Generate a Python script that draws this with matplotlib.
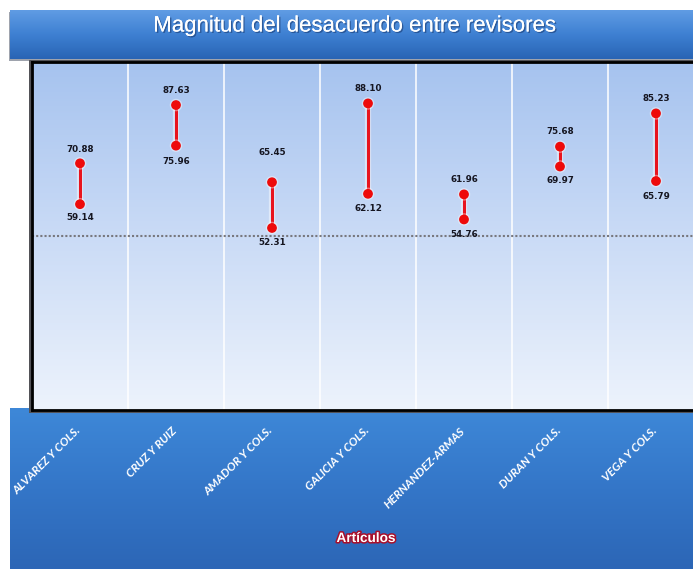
import numpy as np
import matplotlib
matplotlib.use("Agg")
import matplotlib.pyplot as plt
import matplotlib.patheffects as pe
from matplotlib.colors import LinearSegmentedColormap

# ---- data ----
categories = ['ALVAREZ Y COLS.', 'CRUZ Y RUIZ', 'AMADOR Y COLS.', 'GALICIA Y COLS.',
              'HERNANDEZ-ARMAS', 'DURAN Y COLS.', 'VEGA Y COLS.']
high = [70.88, 87.63, 65.45, 88.10, 61.96, 75.68, 85.23]
low = [59.14, 75.96, 52.31, 62.12, 54.76, 69.97, 65.79]
reference_line = 50
title = 'Magnitud del desacuerdo entre revisores'
xlabel = 'Artículos'

W, H = 693, 569
fig = plt.figure(figsize=(W / 100, H / 100), dpi=100)
fig.patch.set_facecolor('white')


def fx(px):
    return px / W


def fy(py):
    return 1 - py / H


def gradient_axes(rect, colors, z):
    ax = fig.add_axes(rect, zorder=z)
    cmap = LinearSegmentedColormap.from_list('g', [np.array(c) / 255 for c in colors])
    grad = np.linspace(0, 1, 256).reshape(-1, 1)
    ax.imshow(grad, aspect='auto', cmap=cmap, extent=[0, 1, 0, 1], origin='upper')
    ax.set_xlim(0, 1)
    ax.set_ylim(0, 1)
    ax.axis('off')
    return ax


# title banner shadow + banner
sh = fig.add_axes([fx(9), fy(61), 1, fy(12) - fy(61)], zorder=1)
sh.axis('off')
sh.add_patch(plt.Rectangle((0, 0), 1, 1, transform=sh.transAxes, color=(0.62, 0.64, 0.68)))
tb = gradient_axes([fx(10), fy(59), 1, fy(10) - fy(59)],
                   [(96, 156, 228), (62, 128, 210), (40, 100, 180)], 2)
fig.text(fx(355), fy(26), title, ha='center', va='center', color='white',
         fontsize=16, family='Liberation Sans', zorder=10,
         path_effects=[pe.withSimplePatchShadow(offset=(1, -1), shadow_rgbFace='#1a3a70', alpha=0.6), pe.Normal()])

# bottom banner
bb = gradient_axes([fx(10), 0, 1, fy(408)], [(62, 136, 216), (52, 118, 200), (44, 102, 182)], 2)

# plot area shadow
ps = fig.add_axes([fx(29), fy(413), 1, fy(60) - fy(413)], zorder=3)
ps.axis('off')
ps.add_patch(plt.Rectangle((0, 0), 1, 1, transform=ps.transAxes, color=(0.32, 0.32, 0.34)))

# main plot
n = len(categories)
ax = fig.add_axes([fx(32), fy(410), fx(32 + 96 * n) - fx(32), fy(62) - fy(410)], zorder=4)
ax.set_xlim(-0.5, n - 0.5)
ax.set_ylim(0, 100)
bgcmap = LinearSegmentedColormap.from_list('bg', [(166 / 255, 195 / 255, 239 / 255),
                                                   (202 / 255, 219 / 255, 246 / 255),
                                                   (237 / 255, 243 / 255, 252 / 255)])
ax.imshow(np.linspace(0, 1, 256).reshape(-1, 1), aspect='auto', cmap=bgcmap,
          extent=[-0.5, n - 0.5, 0, 100], origin='upper', zorder=0)
for b in np.arange(0.5, n - 0.5, 1):
    ax.axvline(b, color='white', lw=1.3, alpha=0.85, zorder=1)
ax.axhline(reference_line, color='#78787e', lw=1.5, ls=(0, (1, 1)), zorder=2)

x = np.arange(n)
glow = [pe.Stroke(linewidth=4.5, foreground='white', alpha=0.45), pe.Normal()]
ax.vlines(x, low, high, color='#e8141e', lw=2.2, zorder=3, path_effects=glow)
ax.plot(x, high, 'o', color='#ee0a0a', ms=6, zorder=4, mec='#ee0a0a',
        path_effects=[pe.Stroke(linewidth=3, foreground='white', alpha=0.4), pe.Normal()])
ax.plot(x, low, 'o', color='#ee0a0a', ms=6, zorder=4, mec='#ee0a0a',
        path_effects=[pe.Stroke(linewidth=3, foreground='white', alpha=0.4), pe.Normal()])

top_offsets = [10.3, 10.8, 21.6, 10.8, 10.8, 10.8, 10.8]
bottom_offsets = [9.5, 11.5, 10.8, 10.8, 10.8, 10.3, 10.8]
for i in range(n):
    ax.annotate(f'{high[i]:.2f}', (x[i], high[i]), xytext=(0, top_offsets[i]), textcoords='offset points',
                ha='center', va='center', fontsize=6.3, fontweight='bold', color='#151520', zorder=5)
    ax.annotate(f'{low[i]:.2f}', (x[i], low[i]), xytext=(0, -bottom_offsets[i]), textcoords='offset points',
                ha='center', va='center', fontsize=6.3, fontweight='bold', color='#151520', zorder=5)

ax.set_xticks([])
ax.set_yticks([])
for s in ['left', 'top', 'bottom']:
    ax.spines[s].set_color('black')
    ax.spines[s].set_linewidth(2)
ax.spines['right'].set_visible(False)

# category labels on the bottom banner
for i, c in enumerate(categories):
    px = 32 + 96 * i + 48
    fig.text(fx(px + 3), fy(425), c, rotation=45, ha='right', va='top', color='white',
             fontsize=8.4, fontweight='bold', style='italic', family='Lato', zorder=10)

fig.text(fx(366), fy(538), xlabel, ha='center', va='center', color='white', fontsize=9.8,
         fontweight='bold', family='Liberation Sans', zorder=10,
         path_effects=[pe.withStroke(linewidth=2.2, foreground='#a8102c')])

fig.savefig('out.png', dpi=100)
